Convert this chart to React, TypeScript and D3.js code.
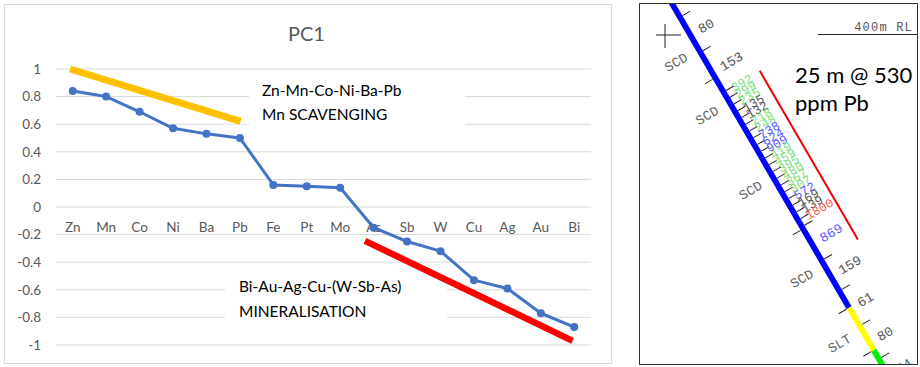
import * as d3 from 'd3';
import React from 'react';

// ---- PC1 loadings (left chart) ----
const elements = ['Zn', 'Mn', 'Co', 'Ni', 'Ba', 'Pb', 'Fe', 'Pt', 'Mo', 'As', 'Sb', 'W', 'Cu', 'Ag', 'Au', 'Bi'];
const pc1Loadings = [0.84, 0.8, 0.69, 0.57, 0.53, 0.5, 0.16, 0.15, 0.14, -0.15, -0.25, -0.32, -0.53, -0.59, -0.77, -0.87];
const yTicks = [1, 0.8, 0.6, 0.4, 0.2, 0, -0.2, -0.4, -0.6, -0.8, -1];

// hand-drawn trend bars: [category position, loading]
const scavengingTrend: [number, number][] = [[-0.08, 1.0], [5.02, 0.62]];
const mineralTrend: [number, number][] = [[8.74, -0.245], [14.95, -0.97]];

const scavengingText = ['Zn-Mn-Co-Ni-Ba-Pb', 'Mn SCAVENGING'];
const mineralText = ['Bi-Au-Ag-Cu-(W-Sb-As)', 'MINERALISATION'];

// ---- drill log (right panel), depths in metres down hole ----
const sampleFrom = [2.1, 7.3, 13.2, 14.2, 15.2, 16.2, 17.2, 18.2, 19.2, 20.2, 21.2, 22.2, 23.2, 24.2, 25.2, 26.2, 27.2, 28.2, 29.2, 30.2, 31.2, 32.2, 33.2, 38.2, 42.7, 47.9, 52.8];
const sampleTo = [7.3, 13.2, 14.2, 15.2, 16.2, 17.2, 18.2, 19.2, 20.2, 21.2, 22.2, 23.2, 24.2, 25.2, 26.2, 27.2, 28.2, 29.2, 30.2, 31.2, 32.2, 33.2, 38.2, 42.7, 47.9, 52.8, 57.5];
const pbPpm = [80, 153, 392, 299, 235, 135, 132, 218, 248, 738, 624, 909, 419, 459, 395, 480, 367, 307, 572, 169, 139, 1800, 869, 159, 61, 80, 24];

const lithoCode = ['SCD', 'SLT', 'SST'];
const lithoFrom = [-2, 45.2, 51.5];
const lithoTo = [45.2, 51.5, 62];
const lithoColor = ['#0000ff', '#ffff00', '#00ee00'];
const lithoBoundaries = [11.1, 33.5, 45.2, 51.5];
const lithoLabelDepth = [6.8, 14.7, 25.8, 38.9, 48.5];
const lithoLabelCode = ['SCD', 'SCD', 'SCD', 'SCD', 'SLT'];

const interceptFrom = 13.2;
const interceptTo = 38.2;
const interceptText = ['25 m @ 530', 'ppm Pb'];

const gradeColor = (v: number) =>
    v >= 1000 ? '#ff5a5a' : v >= 500 ? '#5a5aff' : v >= 200 ? '#7fe07f' : '#555555';

const SANS = 'Lato, "Open Sans", sans-serif';
const MONO = '"Liberation Mono", "DejaVu Sans Mono", monospace';

export default function App() {
    const W = 920;
    const H = 367;

    const plot = { left: 56, right: 591, top: 69, bottom: 345 };
    const x = d3.scaleLinear().domain([-0.5, elements.length - 0.5]).range([plot.left, plot.right]);
    const y = d3.scaleLinear().domain([-1, 1]).range([plot.bottom, plot.top]);

    const seriesPath = d3.line<number>().x((_, i) => x(i)).y((d) => y(d))(pc1Loadings) ?? '';
    const trend = d3.line<[number, number]>().x((d) => x(d[0])).y((d) => y(d[1]));

    // hole drawn in a rotated frame: x = across hole (right), y = down hole
    const along = d3.scaleLinear().domain([0, 60]).range([0, 468]);
    const holeOrigin = [671.7, 3];
    const holeAngle = -30.2;

    return (
        <svg
            width={W}
            height={H}
            style={{ position: 'absolute', left: 0, top: 0, background: '#fff' }}
        >
            <defs>
                <clipPath id="logClip">
                    <rect x={639} y={3} width={279} height={362} />
                </clipPath>
            </defs>

            {/* ---------- left: PC1 chart ---------- */}
            <rect x={4.5} y={4.5} width={607} height={359} fill="#fff" stroke="#d9d9d9" />
            <text x={306.5} y={41} textAnchor="middle" fontFamily={SANS} fontSize={20} fill="#595959">
                PC1
            </text>

            {yTicks.map((t) => (
                <g key={t}>
                    <line x1={plot.left} x2={plot.right} y1={y(t)} y2={y(t)} stroke="#d9d9d9" />
                    <text
                        x={41}
                        y={y(t)}
                        dy="0.35em"
                        textAnchor="end"
                        fontFamily={SANS}
                        fontSize={13.5}
                        fill="#595959"
                    >
                        {t}
                    </text>
                </g>
            ))}

            {elements.map((el, i) => (
                <text
                    key={el}
                    x={x(i)}
                    y={y(0) + 25}
                    textAnchor="middle"
                    fontFamily={SANS}
                    fontSize={13.5}
                    fill="#595959"
                >
                    {el}
                </text>
            ))}

            <path d={seriesPath} fill="none" stroke="#4472c4" strokeWidth={3} strokeLinejoin="round" />
            {pc1Loadings.map((v, i) => (
                <circle key={i} cx={x(i)} cy={y(v)} r={4} fill="#4472c4" />
            ))}

            {/* text boxes (white fill hides gridlines) */}
            <rect x={249} y={76} width={216} height={62} fill="#fff" />
            {scavengingText.map((s, i) => (
                <text key={s} x={262} y={96 + i * 23.5} fontFamily={SANS} fontSize={15.5} fill="#000">
                    {s}
                </text>
            ))}
            <rect x={225} y={268} width={222} height={64} fill="#fff" />
            {mineralText.map((s, i) => (
                <text key={s} x={239} y={292 + i * 24.5} fontFamily={SANS} fontSize={15.5} fill="#000">
                    {s}
                </text>
            ))}

            <path d={trend(scavengingTrend) ?? ''} stroke="#ffc000" strokeWidth={7} fill="none" />
            <path d={trend(mineralTrend) ?? ''} stroke="#ff0000" strokeWidth={6.5} fill="none" />

            {/* ---------- right: drill log ---------- */}
            <g clipPath="url(#logClip)">
                <rect x={639} y={3} width={279} height={362} fill="#fff" />

                {/* crosshair + RL marker */}
                <line x1={656} x2={681} y1={35} y2={35} stroke="#222" />
                <line x1={665} x2={665} y1={24} y2={48} stroke="#222" />
                <line x1={818} x2={918} y1={34.5} y2={34.5} stroke="#222" />
                <text x={913} y={31} textAnchor="end" fontFamily={MONO} fontSize={12} letterSpacing={1.2} fill="#555">
                    400m RL
                </text>

                <g transform={`translate(${holeOrigin[0]},${holeOrigin[1]}) rotate(${holeAngle})`}>
                    {lithoCode.map((c, i) => (
                        <line
                            key={c}
                            x1={0}
                            x2={0}
                            y1={along(lithoFrom[i])}
                            y2={along(lithoTo[i])}
                            stroke={lithoColor[i]}
                            strokeWidth={5.8}
                        />
                    ))}

                    {lithoBoundaries.map((d) => (
                        <line key={d} x1={-3} x2={-12} y1={along(d)} y2={along(d)} stroke="#222" />
                    ))}
                    {lithoLabelDepth.map((d, i) => (
                        <text
                            key={d}
                            x={-14}
                            y={along(d)}
                            dy="0.35em"
                            textAnchor="end"
                            fontFamily={MONO}
                            fontSize={13.5}
                            fill="#666"
                        >
                            {lithoLabelCode[i]}
                        </text>
                    ))}

                    {sampleFrom.map((d) => (
                        <line key={`t${d}`} x1={3} x2={12} y1={along(d)} y2={along(d)} stroke="#222" />
                    ))}
                    <line
                        x1={3}
                        x2={12}
                        y1={along(sampleTo[sampleTo.length - 1])}
                        y2={along(sampleTo[sampleTo.length - 1])}
                        stroke="#222"
                    />

                    {pbPpm.map((v, i) => {
                        const mid = (sampleFrom[i] + sampleTo[i]) / 2;
                        const wide = sampleTo[i] - sampleFrom[i] > 2;
                        return (
                            <text
                                key={`v${i}`}
                                x={wide ? 10 : 9}
                                y={along(mid) - (wide ? 0 : 3)}
                                dy="0.35em"
                                fontFamily={MONO}
                                fontSize={wide ? 13.5 : 12.5}
                                fill={gradeColor(v)}
                            >
                                {v}
                            </text>
                        );
                    })}

                    <line
                        x1={42}
                        x2={42}
                        y1={along(interceptFrom)}
                        y2={along(interceptTo)}
                        stroke="#ee0000"
                        strokeWidth={2}
                    />
                </g>

                {interceptText.map((s, i) => (
                    <text key={s} x={795} y={83 + i * 28} fontFamily={SANS} fontSize={22} fill="#000">
                        {s}
                    </text>
                ))}
            </g>
            <rect x={639.5} y={3.5} width={278} height={361} fill="none" stroke="#333" />
        </svg>
    );
}
